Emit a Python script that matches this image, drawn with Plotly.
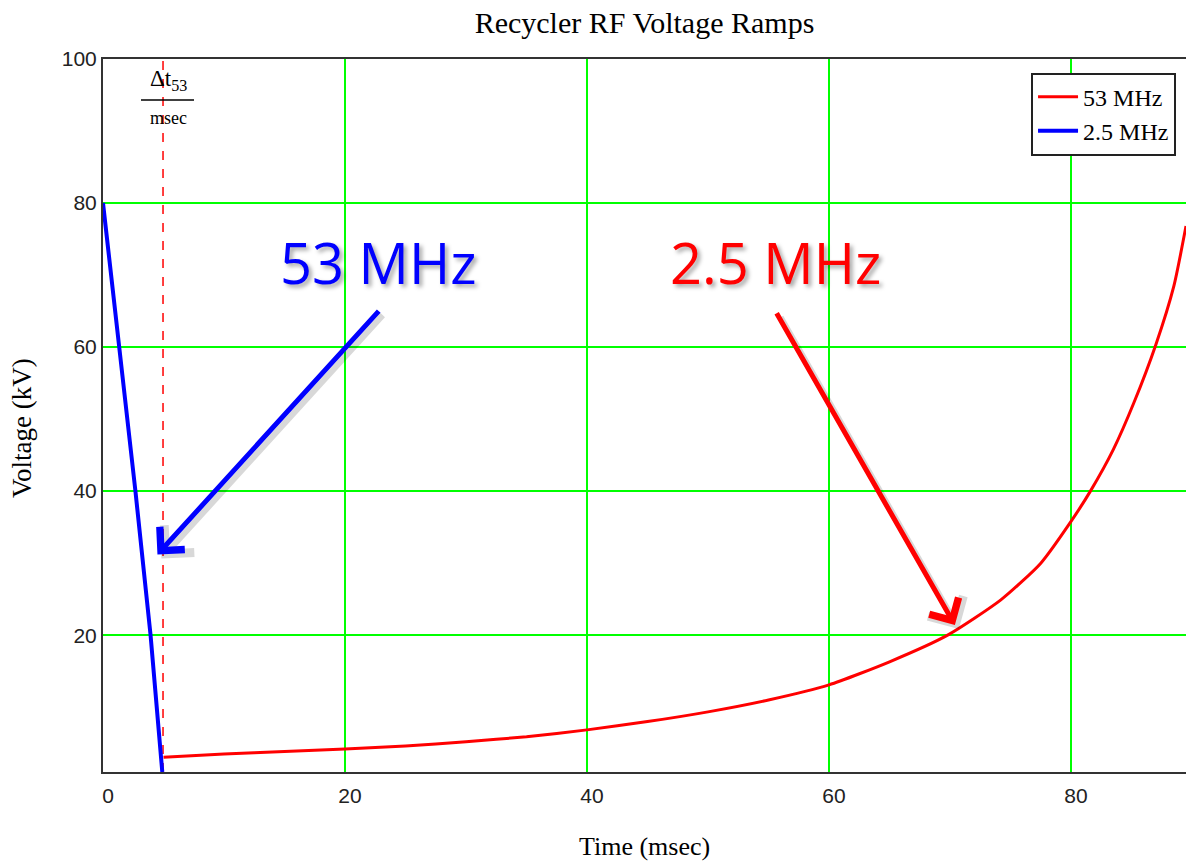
import plotly.graph_objects as go

# ---- data ----
red_t = [5, 10, 15, 20, 25, 30, 35, 40, 45, 50, 55, 60, 65, 69.8, 74.2, 77.5, 80, 81.6, 83.5, 85.2, 87, 88.5, 89.5]
red_v = [3.05, 3.5, 3.85, 4.2, 4.6, 5.2, 5.9, 6.85, 8.0, 9.35, 11.0, 13.1, 16.3, 20, 24.9, 30, 35.8, 40, 45.8, 52.3, 60.3, 68.5, 76.8]
blue_t = [0, 1.36, 2.68, 3.93, 4.9]
blue_v = [80, 60, 40, 20, 1]
dt53 = 4.96

x_ticks = [0, 20, 40, 60, 80]
y_ticks = [20, 40, 60, 80, 100]
x_range = [0, 89.5]
y_range = [1, 100]

GREEN = "#00ff00"
SERIF = "Liberation Serif, Times New Roman, serif"
SANS = "Liberation Sans, Arial, sans-serif"

fig = go.Figure()
fig.add_trace(go.Scatter(x=[dt53, dt53], y=y_range, mode="lines",
                         line=dict(color="red", width=1.5, dash="dash"),
                         showlegend=False, hoverinfo="skip"))
fig.add_trace(go.Scatter(x=red_t, y=red_v, mode="lines", name="53 MHz",
                         line=dict(color="#ff0000", width=3, shape="spline", smoothing=0.6)))
fig.add_trace(go.Scatter(x=blue_t, y=blue_v, mode="lines", name="2.5 MHz",
                         line=dict(color="#0000ff", width=4)))

fig.update_layout(
    width=1186, height=863,
    margin=dict(l=103, r=0, t=59, b=91),
    paper_bgcolor="white", plot_bgcolor="white",
    title=dict(text="Recycler RF Voltage Ramps", x=0.5, xref="paper",
               y=1 - 22 / 863, yanchor="middle", xanchor="center",
               font=dict(family=SERIF, size=30, color="black")),
    legend=dict(x=0.9908, y=0.981, xanchor="right", yanchor="top",
                bgcolor="white", bordercolor="#222", borderwidth=2,
                font=dict(family=SERIF, size=24, color="black"),
                tracegroupgap=0, itemwidth=40),
    showlegend=True,
)
fig.update_xaxes(range=x_range, tickvals=x_ticks, showgrid=True, gridcolor=GREEN, gridwidth=2,
                 zeroline=False, showline=True, linecolor="#333", linewidth=2, mirror=True,
                 ticks="", tickfont=dict(family=SANS, size=21, color="#222"),
                 ticklabelshift=5, ticklabelstandoff=4)
fig.update_yaxes(range=y_range, tickvals=y_ticks, showgrid=True, gridcolor=GREEN, gridwidth=2,
                 zeroline=False, showline=True, linecolor="#333", linewidth=2, mirror=False,
                 ticks="", tickfont=dict(family=SANS, size=21, color="#222"),
                 ticklabelstandoff=0)

# axis titles
fig.add_annotation(text="Time (msec)", xref="paper", yref="paper", x=0.5, y=(772 - 846) / 713,
                   xanchor="center", yanchor="middle",
                   showarrow=False, font=dict(family=SERIF, size=26, color="black"))
fig.add_annotation(text="Voltage (kV)", xref="paper", yref="paper", x=(22 - 103) / 1083,
                   y=(772 - 428) / 713, textangle=-90, showarrow=False,
                   xanchor="center", yanchor="middle",
                   font=dict(family=SERIF, size=27, color="black"))

# delta t label
fig.add_annotation(text="Δt<sub>53</sub>", xref="paper", yref="paper", x=(168 - 103) / 1083,
                   y=(772 - 80) / 713, showarrow=False, xanchor="center", yanchor="middle",
                   font=dict(family=SERIF, size=23, color="black"))
fig.add_shape(type="line", xref="paper", yref="paper", x0=(141 - 103) / 1083, x1=(194 - 103) / 1083,
              y0=(772 - 100) / 713, y1=(772 - 100) / 713, line=dict(color="black", width=1.5))
fig.add_annotation(text="msec", xref="paper", yref="paper", x=(168 - 103) / 1083,
                   y=(772 - 118) / 713, showarrow=False, xanchor="center", yanchor="middle",
                   font=dict(family=SERIF, size=18, color="black"))

# arrows (shadow first, then arrow)
arrows = [
    dict(x=4.5, y=31.2, ax=22.9, ay=65.2, color="#0000ff"),
    dict(x=70.4, y=21.4, ax=55.6, ay=64.9, color="#ff0000"),
]
for a in arrows:
    fig.add_annotation(x=a["x"], y=a["y"], ax=a["ax"], ay=a["ay"], axref="x", ayref="y",
                       xref="x", yref="y", text="", showarrow=True, arrowhead=4,
                       arrowsize=1.3, arrowwidth=6, arrowcolor="rgba(0,0,0,0.15)",
                       xshift=4, yshift=-4)
    fig.add_annotation(x=a["x"], y=a["y"], ax=a["ax"], ay=a["ay"], axref="x", ayref="y",
                       xref="x", yref="y", text="", showarrow=True, arrowhead=4,
                       arrowsize=1.3, arrowwidth=5, arrowcolor=a["color"])

# big labels
shadow = "3px 3px 4px rgba(0,0,0,0.35)"
fig.add_annotation(text="53 MHz", x=22.8, y=71.85, xref="x", yref="y", showarrow=False,
                   font=dict(family="Open Sans", size=56, color="#0000ff", shadow=shadow))
fig.add_annotation(text="2.5 MHz", x=55.6, y=71.85, xref="x", yref="y", showarrow=False,
                   font=dict(family="Open Sans", size=56, color="#ff0000", shadow=shadow))

fig.write_html("out.html")
